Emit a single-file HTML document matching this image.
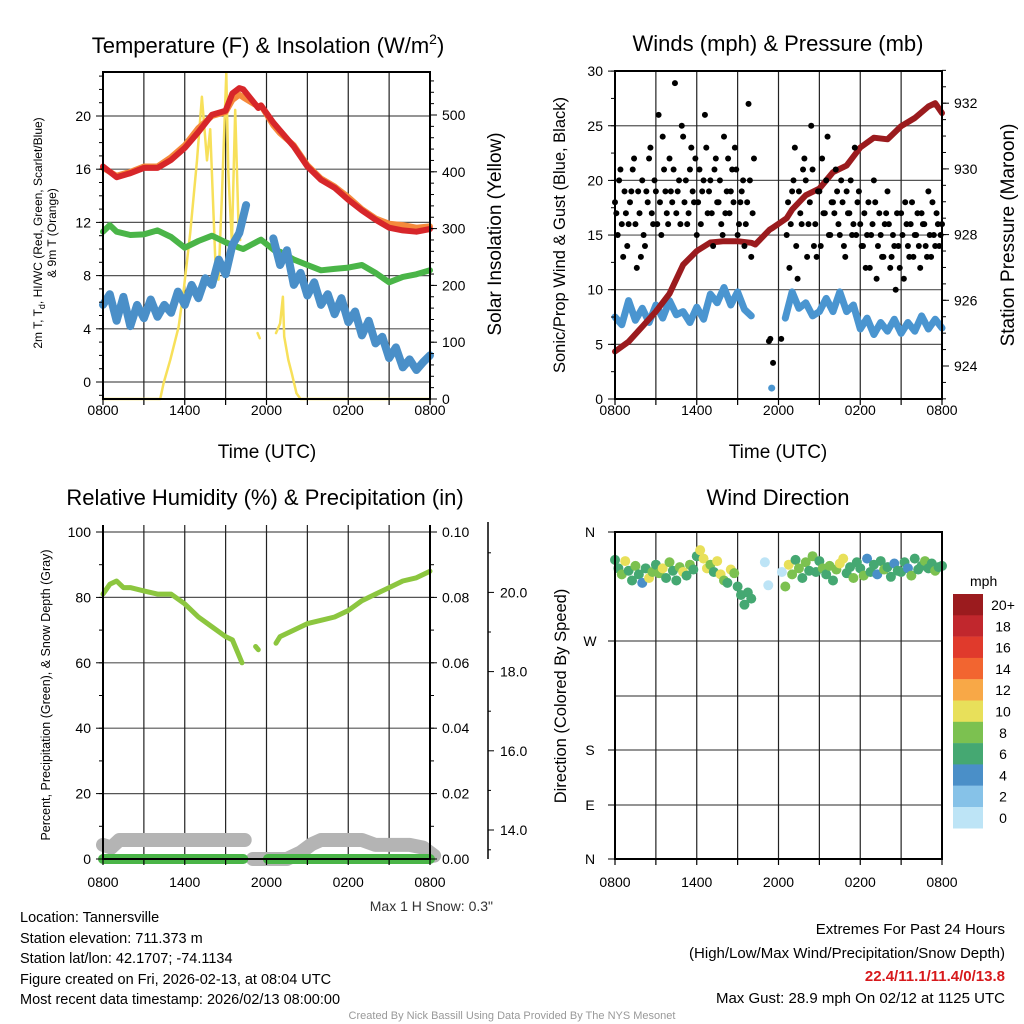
<!DOCTYPE html>
<html><head><meta charset="utf-8"><style>
body{margin:0;background:#fff;}
svg{display:block;font-family:"Liberation Sans",Arial,sans-serif;}
</style></head><body>
<svg id="root" width="1024" height="1024" viewBox="0 0 1024 1024" xmlns="http://www.w3.org/2000/svg">
<rect x="0" y="0" width="1024" height="1024" fill="#fff"/>
<text x="268" y="53" font-size="22" text-anchor="middle">Temperature (F) &amp; Insolation (W/m<tspan font-size="14" dy="-9">2</tspan><tspan dy="9">)</tspan></text>
<text x="778" y="51" font-size="22" text-anchor="middle">Winds (mph) &amp; Pressure (mb)</text>
<text x="265" y="505" font-size="22" text-anchor="middle">Relative Humidity (%) &amp; Precipitation (in)</text>
<text x="778" y="505" font-size="22" text-anchor="middle">Wind Direction</text>
<text transform="translate(42,233) rotate(-90)" font-size="12" text-anchor="middle">2m T, T<tspan font-size="9" dy="3">d</tspan><tspan dy="-3">, HI/WC (Red, Green, Scarlet/Blue)</tspan></text>
<text transform="translate(56,233) rotate(-90)" font-size="12" text-anchor="middle">&amp; 9m T (Orange)</text>
<text transform="translate(501,234) rotate(-90)" font-size="19" text-anchor="middle">Solar Insolation (Yellow)</text>
<text x="267" y="458" font-size="19" text-anchor="middle">Time (UTC)</text>
<text transform="translate(565,235) rotate(-90)" font-size="16.5" text-anchor="middle">Sonic/Prop Wind &amp; Gust (Blue, Black)</text>
<text transform="translate(1014,235) rotate(-90)" font-size="19" text-anchor="middle">Station Pressure (Maroon)</text>
<text x="778" y="458" font-size="19" text-anchor="middle">Time (UTC)</text>
<text transform="translate(50,695) rotate(-90)" font-size="12.5" text-anchor="middle">Percent, Precipitation (Green), &amp; Snow Depth (Gray)</text>
<text transform="translate(566,696) rotate(-90)" font-size="16.5" text-anchor="middle">Direction (Colored By Speed)</text>
<text x="493" y="911" font-size="14" text-anchor="end" fill="#333">Max 1 H Snow: 0.3"</text>
<g font-size="14.5">
<text x="20" y="922">Location: Tannersville</text>
<text x="20" y="943">Station elevation: 711.373 m</text>
<text x="20" y="963">Station lat/lon: 42.1707; -74.1134</text>
<text x="20" y="984">Figure created on Fri, 2026-02-13, at 08:04 UTC</text>
<text x="20" y="1004">Most recent data timestamp: 2026/02/13 08:00:00</text>
</g>
<g font-size="15" text-anchor="end">
<text x="1005" y="934">Extremes For Past 24 Hours</text>
<text x="1005" y="958">(High/Low/Max Wind/Precipitation/Snow Depth)</text>
<text x="1005" y="981" fill="#d7191c" font-weight="bold">22.4/11.1/11.4/0/13.8</text>
<text x="1005" y="1003">Max Gust: 28.9 mph On 02/12 at 1125 UTC</text>
</g>
<text x="512" y="1019" font-size="11" text-anchor="middle" fill="#999">Created By Nick Bassill Using Data Provided By The NYS Mesonet</text>
<text x="970" y="586" font-size="14">mph</text>
</svg>
<script>
// ---------- data ----------
const timeLabels = ["0800","1400","2000","0200","0800"];
const tempHours = [0,1,2,3,4,5,6,7,8,9,9.5,10,10.3, 11.4,11.6, 12.5,13,14,15,16,17,18,19,20,21,22,23,24];
const tempRed   = [16.2,15.4,15.7,16.1,16.1,16.7,17.6,18.8,20.1,20.4,21.7,22.1,22.0, 20.6,20.8, 19.5,18.9,17.7,16.2,15.2,14.6,13.7,12.9,12.2,11.6,11.4,11.3,11.5];
const tempOrange= [16.1,15.5,15.8,16.2,16.2,16.9,17.8,19.1,20.0,20.3,21.2,21.6,21.4, 20.7,20.8, 19.3,18.7,17.8,16.3,15.3,14.7,13.9,13.0,12.3,11.9,11.8,11.6,11.7];
const greenHours = [0,0.5,1,2,3,4,5,6,7,8,9,10,10.3, 11.4,11.6, 12.7,13,14,15,16,17,18,19,20,21,22,23,24];
const greenVals  = [11.3,11.8,11.3,11.05,11.1,11.4,10.9,10.1,10.6,11.0,10.5,10.1,10.0, 10.6,10.7, 9.8,9.8,9.2,8.8,8.4,8.5,8.6,8.8,8.2,7.5,7.9,8.1,8.4];
const dewStart = 0, dewStep = 0.5;
const dewVals = [5.8,6.6,4.6,6.4,4.2,5.8,4.8,6.2,4.9,5.8,5.2,6.8,5.8,7.3,6.3,7.8,7.3,9.2,8.1,10.3,11.2,13.3,
  null,null,null,
  10.8,8.8,9.9,7.3,8.2,6.5,7.5,5.8,6.6,5.1,6.3,4.5,5.3,3.5,4.6,2.9,3.4,1.8,2.6,1.1,1.7,0.9,1.5,2.0];
const insoHours = [0,4.2,4.45,4.94,5.55,5.92,6.4,6.9,7.26,7.63,7.87,8.24,8.48,8.73,9.05,9.2,9.46,9.7,9.95,10.07, null, 11.35,11.5, null, 12.7,13.0,13.2,13.3,13.6,13.86,14.2,14.5,24];
const insoVals  = [0,0,28,69,127,192,292,420,532,420,475,245,210,357,574,400,275,509,300,280, null, 116,107, null, 116,133,180,110,69,45,10,0,0];
const presHours = [0,1,2,3,4,5,6,7,8,9,10,10.3, 11.35,11.55, 12.6,13,14,15,16,17,18,19,20,21,22,23,23.5,24];
const presVals  = [924.44,924.74,925.2,925.66,926.2,927.08,927.5,927.76,927.8,927.8,927.75,927.7, 928.15,928.2, 928.5,928.76,929.2,929.4,929.9,930.1,930.65,930.95,930.9,931.3,931.55,931.9,932.0,931.7];
const windStart = 0, windStep = 0.5;
const windVals = [7.5,6.8,9.0,7.2,8.3,7.0,8.6,7.4,9.0,7.7,8.0,7.0,8.4,7.3,9.6,8.8,10.2,8.6,9.8,8.2,7.6,
  null,null,1.0,null,
  7.4,9.8,8.3,8.8,7.6,8.0,9.2,8.0,9.8,8.0,8.6,6.4,7.4,5.9,7.0,6.2,7.3,6.0,7.0,6.2,7.6,6.4,7.3,6.5];
const gustStart = 0, gustStep = 0.2;
const gustVals = [18,15,21,13,17,16,19,22,12,17, 20,14,18,23,16,19,26,15,21,17, 22,18,28.9,19,16,24,20,17,23,18,
  15,21,19,26,17,20,14,22,18,16, 24,19,17,21,23,15,18,20,16,27, 13,22,null,null,null,null,null,5.5,3.3,null,
  null,5.5,null,15,12,19,23,11,17,21, 20,16,25,14,13,19,22,17,24,15, 18,21,16,20,14,19,17,15,23,18,
  16,14,12,18,15,20,11,17,13,16, 19,12,15,10,14,17,11,16,13,18, 15,17,12,16,14,19,13,15,17,14, 16];
const gust2Start = 0.1, gust2Step = 0.2;
const gust2Vals = [17,20,16,19,14,18,21,16,19,13, 15,19,22,17,20,16,18,24,19,16, 19,21,17,20,25,18,16,21,19,22,
  18,16,20,23,19,17,21,18,20,15, 17,22,19,18,21,16,19,14,18,20, 17,null,null,null,null,null,5.3,null,null,null,
  null,null,null,18,16,20,14,19,16,22, 13,18,21,16,19,14,17,20,15,18, 17,19,15,18,13,17,20,16,15,19,
  14,17,15,12,16,18,14,15,13,17, 16,13,14,17,12,15,18,14,16,13, 15,14,17,16,13,15,18,14,16,15];
const rhHours = [0,0.5,1,1.5,2,3,4,5,6,7,8,9,9.5,10,10.2, null, 11.2,11.4, null, 12.7,13,14,15,16,17,18,19,20,21,22,23,24];
const rhVals  = [81,84,85,83,83,82,81,81,78,74,71,68,67,62,60, null, 65,64, null, 66,68,70,72,73,74,76,79,81,83,85,86,88];
const snowHours = [0,0.6,1.2,10.4, null, 11.0,13.5,14.5,15.3,16,19,20,22.5,23.5,24.3];
const snowBand  = [4.3,3.5,5.8,5.8, null, 0,0,2,4.5,5.8,5.8,4.3,4.3,3.5,1];
const precipHours = [0,10.3,null,12.1,24];
const precipVals  = [0,0,null,0,0];
const dirStart = 0, dirStep = 0.25;
const dirVals = [337,330,325,336,328,320,332,325,318,330,322,327,
  333,326,330,322,335,328,320,331,327,324,333,329,
  340,345,338,330,333,327,336,325,320,318,329,326,
  315,308,300,310,305,null,null,null,335,316,null,null,
  null,327,315,333,325,337,330,322,335,328,340,327,
  336,330,325,332,320,329,334,338,326,331,322,335,
  330,324,338,327,333,325,336,329,331,323,334,328,
  327,335,330,324,338,329,332,336,330,334,328,331, 332];
const dirSpeed = [7,6,8,10,7,6,8,7,4,7,10,8,
  7,9,10,6,8,7,6,9,10,7,8,6,
  6,10,11,10,8,7,11,10,9,7,11,8,
  6,7,7,6,6,null,null,null,1,1,null,null,
  null,1,8,10,8,7,9,6,8,7,9,6,
  7,8,6,9,7,8,11,10,7,6,8,7,
  6,8,4,7,6,4,7,8,6,7,4,6,
  7,6,4,8,6,7,6,8,7,6,8,7, 6];
const cbLabels = ["20+","18","16","14","12","10","8","6","4","2","0"];
const cbColors = ["#9b1b1e","#c1272d","#e03a2c","#f26530","#f8a847","#e8e05a","#7cc150","#45a872","#4a8fc8","#86c2e8","#bde4f6"];

// ---------- helpers ----------
const NS = "http://www.w3.org/2000/svg";
const root = document.getElementById("root");
function mk(tag, attrs, parent){ const e=document.createElementNS(NS,tag); for(const k in attrs) e.setAttribute(k,attrs[k]); (parent||root).appendChild(e); return e; }
const HPX = 13.625;
const P1={x0:103,x1:430,y0:72,y1:399};
const P2={x0:615,x1:942,y0:71,y1:399};
const P3={x0:103,x1:430,y0:525,y1:859};
const P4={x0:615,x1:942,y0:532,y1:859};
const xOf=(p,h)=>p.x0+h*HPX;
const yTemp=v=>382-13.3*v;
const yInso=w=>399-0.568*w;
const yWind=v=>399-10.93*v;
const yPres=p=>366-32.85*(p-924);
const yRH=v=>859-3.27*v;
const ySnow=s=>830-(s-14)*39.6;
const yDir=d=>532+(360-d)*1.211;

function spdColor(s){ let i = s>=20?0: 10-Math.floor(s/2); if(i<0)i=0; if(i>10)i=10; return cbColors[i]; }

function lineSeries(p, hours, vals, yf, color, w, name){
  let segs=[], cur=[];
  for(let i=0;i<hours.length;i++){
    if(hours[i]===null||vals[i]===null){ if(cur.length) segs.push(cur); cur=[]; continue; }
    cur.push([xOf(p,hours[i]), yf(vals[i])]);
  }
  if(cur.length) segs.push(cur);
  segs.forEach(s=>{
    if(s.length===1){ const c=mk('circle',{cx:s[0][0],cy:s[0][1],r:w/2,fill:color});
      
       return; }
    const pl=mk('polyline',{points:s.map(q=>q[0].toFixed(1)+','+q[1].toFixed(1)).join(' '),fill:'none',stroke:color,'stroke-width':w,'stroke-linejoin':'round','stroke-linecap':'round'});
    
    
  });
}
function stepSeries(p,start,step,vals,yf,color,w,name){
  const hrs=vals.map((v,i)=>start+i*step);
  lineSeries(p,hrs,vals,yf,color,w,name);
}

function grid(p, hLines, vGrid){
  hLines.forEach(y=>{ const l=mk('line',{x1:p.x0,x2:p.x1,y1:y,y2:y,stroke:'#555','stroke-width':1.2});
    
     });
  if(vGrid) for(let h=3;h<24;h+=3){ const x=xOf(p,h); const l=mk('line',{x1:x,x2:x,y1:p.y0,y2:p.y1,stroke:'#222','stroke-width':1.2});
    
     }
}
function frame(p, top){
  const r=mk('path',{d:`M${p.x0},${p.y0} L${p.x0},${p.y1} L${p.x1},${p.y1} L${p.x1},${p.y0}`+(top?` Z`:''),fill:'none',stroke:'#000','stroke-width':2});
  
  
}
function xAxis(p, ly){
  for(let h=0;h<=24;h+=3){ const x=xOf(p,h); const t=mk('line',{x1:x,x2:x,y1:p.y1,y2:p.y1+6,stroke:'#000','stroke-width':1.2});
    
     }
  timeLabels.forEach((lab,i)=>{ const t=mk('text',{x:xOf(p,i*6),y:ly,'font-size':14,'text-anchor':'middle'}); t.textContent=lab;
    
     });
}
function yTicks(x, vals, yf, side, len, labels, fs, name){
  vals.forEach((v,i)=>{ const y=yf(v); const l=mk('line',{x1:x,x2:x+(side<0?-len:len),y1:y,y2:y,stroke:'#000','stroke-width':1});
    
    
    if(labels && labels[i]!==undefined && labels[i]!==null){ const t=mk('text',{x:side<0?x-12:x+12,y:y+5,'font-size':fs,'text-anchor':side<0?'end':'start'}); t.textContent=labels[i];
      
       } });
}
const range=(a,b,s)=>{const r=[];for(let v=a;v<=b+1e-9;v+=s)r.push(+v.toFixed(3));return r;};

// ---------- panel 1 ----------
grid(P1,[0,4,8,12,16,20].map(yTemp),true);
lineSeries(P1,insoHours,insoVals,yInso,'#f7e05a',2.5,'insolation-line');
lineSeries(P1,tempHours,tempOrange,yTemp,'#f58a3c',6,'temp-9m-line');
lineSeries(P1,tempHours,tempRed,yTemp,'#d7262a',6,'temp-2m-line');
lineSeries(P1,greenHours,greenVals,yTemp,'#4ab548',6,'heat-index-line');
stepSeries(P1,dewStart,dewStep,dewVals,yTemp,'#4a8fc8',8,'dewpoint-line');
frame(P1,true);
xAxis(P1,415);
yTicks(P1.x0,range(-1,23,1),yTemp,-1,4,null,14,'temp-minor');
yTicks(P1.x0,[0,4,8,12,16,20],yTemp,-1,7,["0","4","8","12","16","20"],14,'temp-y');
yTicks(P1.x1,range(0,560,20),yInso,1,4,null,14,'inso-minor');
yTicks(P1.x1,[0,100,200,300,400,500],yInso,1,7,["0","100","200","300","400","500"],14,'inso-y');

// ---------- panel 2 ----------
grid(P2,[5,10,15,20,25].map(yWind),true);
stepSeries(P2,windStart,windStep,windVals,yWind,'#4a95d0',7,'wind-speed-line');
lineSeries(P2,presHours,presVals,yPres,'#9b1b1e',6,'pressure-line');
gustVals.forEach((v,i)=>{ if(v===null) return; const c=mk('circle',{cx:xOf(P2,gustStart+i*gustStep),cy:yWind(v),r:3,fill:'#000'});
  
   });
gust2Vals.forEach((v,i)=>{ if(v===null) return; const c=mk('circle',{cx:xOf(P2,gust2Start+i*gust2Step),cy:yWind(v),r:3,fill:'#000'});
  
   });
frame(P2,true);
xAxis(P2,415);
yTicks(P2.x0,range(0,30,2.5),yWind,-1,4,null,14,'wind-minor');
yTicks(P2.x0,[0,5,10,15,20,25,30],yWind,-1,7,["0","5","10","15","20","25","30"],14,'wind-y');
yTicks(P2.x1,range(923,933,0.5),yPres,1,4,null,14,'pres-minor');
yTicks(P2.x1,[924,926,928,930,932],yPres,1,7,["924","926","928","930","932"],14,'pres-y');

// ---------- panel 3 ----------
grid(P3,[20,40,60,80,100].map(yRH),true);
lineSeries(P3,snowHours,snowBand,yRH,'#b4b4b4',14,'snow-depth-band');
lineSeries(P3,precipHours,precipVals,yRH,'#4ab548',10,'precip-line');
lineSeries(P3,rhHours,rhVals,yRH,'#8cc63f',5,'rh-line');
frame(P3,false);
xAxis(P3,887);
yTicks(P3.x0,range(0,100,10),yRH,-1,4,null,14,'rh-minor');
yTicks(P3.x0,[0,20,40,60,80,100],yRH,-1,7,["0","20","40","60","80","100"],14,'rh-y');
yTicks(P3.x1,[0,20,40,60,80,100],yRH,1,7,["0.00","0.02","0.04","0.06","0.08","0.10"],14,'precip-y');
yTicks(P3.x1,range(0,100,10),yRH,1,4,null,14,'precip-minor');
const sa=mk('line',{x1:488,x2:488,y1:522,y2:859,stroke:'#000','stroke-width':1.5});


yTicks(488,[14,16,18,20],ySnow,1,6,["14.0","16.0","18.0","20.0"],14,'snow-y');
yTicks(488,[13.5,15,17,19,21],ySnow,1,3,null,14,'snow-minor');

// ---------- panel 4 ----------
grid(P4,[641,696,750,805],true);
dirVals.forEach((d,i)=>{ if(d===null) return; const c=mk('circle',{cx:xOf(P4,dirStart+i*dirStep),cy:yDir(d),r:5,fill:spdColor(dirSpeed[i])});
  
   });
frame(P4,true);
xAxis(P4,887);
[["N",532],["W",641],["S",750],["E",805],["N",859]].forEach(a=>{
  const l=mk('line',{x1:P4.x0,x2:P4.x0-7,y1:a[1],y2:a[1],stroke:'#000'});
  
  
  const t=mk('text',{x:590,y:a[1]+5,'font-size':14,'text-anchor':'middle'}); t.textContent=a[0];
  
   });
cbLabels.forEach((lab,i)=>{ const y=594+i*21.3;
  const r=mk('rect',{x:953,y:y,width:30,height:21.5,fill:cbColors[i]});
  
  
  const t=mk('text',{x:1003,y:y+16,'font-size':14,'text-anchor':'middle'}); t.textContent=lab;
  
   });
</script>
</body></html>
